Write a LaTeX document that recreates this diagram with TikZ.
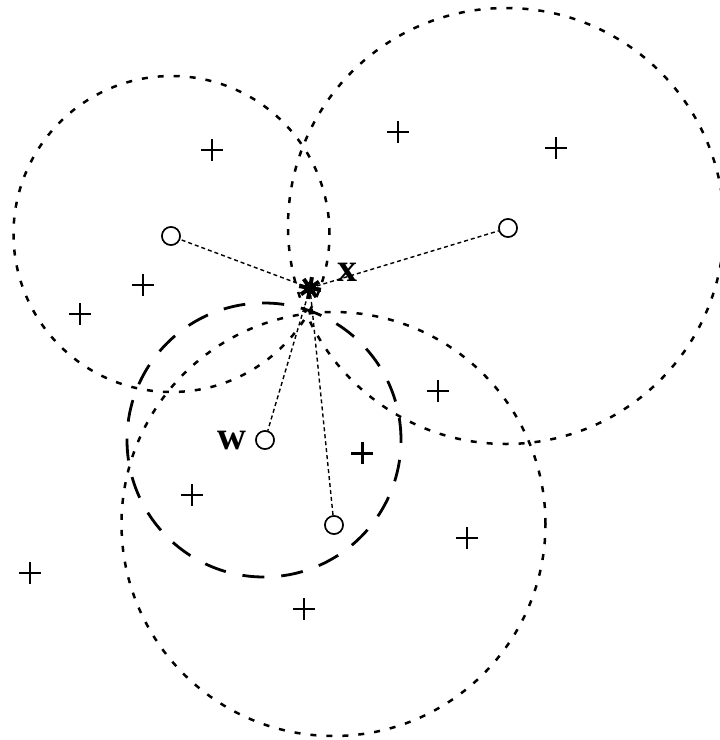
\documentclass[tikz,border=0pt]{standalone}
\usepackage{fontspec}
\setmainfont{Liberation Serif}
\begin{document}
\begin{tikzpicture}[x=1pt,y=-1pt,
  dotc/.style={line width=2.5pt,dash pattern=on 6pt off 10pt},
  bigdash/.style={line width=2.8pt,dash pattern=on 22pt off 17pt},
  conn/.style={line width=1.4pt,dash pattern=on 4pt off 3pt},
  ctr/.style={circle,draw,line width=1.5pt,minimum size=18pt,inner sep=0pt,fill=white},
  lbl/.style={font=\fontsize{40}{44}\selectfont\bfseries,inner sep=0pt},
  plusm/.pic={\draw[line width=2pt] (-11,0)--(11,0) (0,-11)--(0,11);},
  plusb/.pic={\draw[line width=3pt] (-11,0)--(11,0) (0,-11)--(0,11);},
  starm/.pic={\foreach \a in {10,55,...,370}{\draw[line width=4pt] (0,0)--(\a:11);}
    \fill (0,0) circle[radius=6pt];}
]
\useasboundingbox (0,0) rectangle (720,740);
\clip (0,0) rectangle (720,740);

% positions
\coordinate (xc) at (310,288);
\node[ctr] (c1) at (171,236) {};
\node[ctr] (c2) at (508,228) {};
\node[ctr] (w)  at (265,440) {};
\node[ctr] (c3) at (334,525) {};

% neighbourhood circles
\draw[dotc] (171.5,234) circle[radius=158pt];
\draw[dotc] (506,226) circle[radius=218pt];
\draw[dotc] (333.5,524) circle[radius=212pt];
\draw[bigdash] (264,440) circle[radius=137pt];

% connectors
\draw[conn] (xc) -- (c1);
\draw[conn] (xc) -- (c2);
\draw[conn] (xc) -- (w);
\draw[conn] (xc) -- (c3);

% redraw centre circles on top
\node[ctr] at (c1) {};
\node[ctr] at (c2) {};
\node[ctr] at (w) {};
\node[ctr] at (c3) {};

% query point
\pic at (xc) {starm};
\node[lbl] (xl) at (347,272) {x};
\node[lbl] (wl) at (232,441) {w};

% other points
\pic at (212,150) {plusm};
\pic at (398,132) {plusm};
\pic at (556,148) {plusm};
\pic at (143,285) {plusm};
\pic at (80,314) {plusm};
\pic at (438,391) {plusm};
\pic at (362,453) {plusb};
\pic at (192,495) {plusm};
\pic at (467,538) {plusm};
\pic at (30,573) {plusm};
\pic at (304,609) {plusm};
\end{tikzpicture}
\end{document}
